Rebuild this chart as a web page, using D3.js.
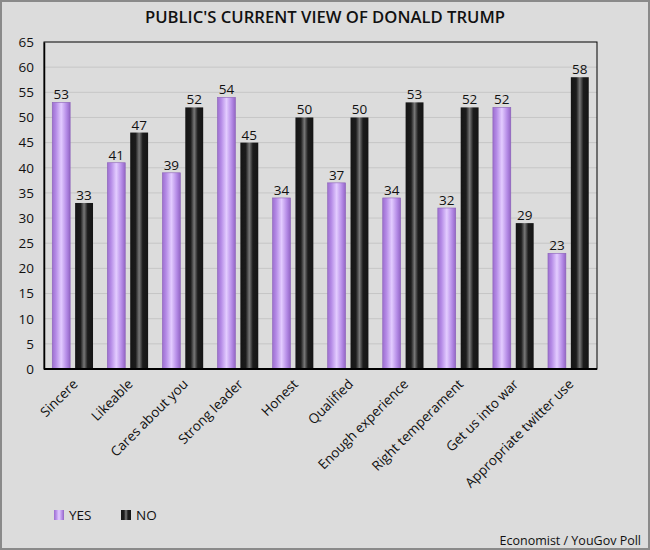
<!DOCTYPE html>
<html>
<head>
<meta charset="utf-8">
<script src="https://cdn.jsdelivr.net/npm/d3@7"></script>
<style>
  body { margin: 0; background: #dcdcdc; }
  svg { display: block; }
  text { font-family: "Open Sans", "DejaVu Sans", sans-serif; fill: #111; }
</style>
</head>
<body>
<div id="chart"></div>
<script>
const width = 650,
      height = 550;

const categories = ["Sincere", "Likeable", "Cares about you", "Strong leader", "Honest",
                    "Qualified", "Enough experience", "Right temperament", "Get us into war",
                    "Appropriate twitter use"];
const yesValues = [53, 41, 39, 54, 34, 37, 34, 32, 52, 23];
const noValues  = [33, 47, 52, 45, 50, 50, 53, 52, 29, 58];
const yTicks = d3.range(0, 66, 5);

const margin = {top: 42, right: 53, bottom: 181, left: 44};

const svg = d3.select("#chart")
  .append("svg")
    .attr("width", width)
    .attr("height", height);

// gradients for the cylinder look
const defs = svg.append("defs");
function gradient(id, stops) {
  const g = defs.append("linearGradient")
    .attr("id", id)
    .attr("x1", "0%").attr("x2", "100%")
    .attr("y1", "0%").attr("y2", "0%");
  stops.forEach(s => g.append("stop").attr("offset", s[0]).attr("stop-color", s[1]));
}
gradient("yesGrad", [["0%", "#9d6fcf"], ["20%", "#b48ae6"], ["50%", "#e3ccff"], ["80%", "#b48ae6"], ["100%", "#9366c4"]]);
gradient("noGrad", [["0%", "#151515"], ["30%", "#1c1c1c"], ["50%", "#777777"], ["70%", "#1c1c1c"], ["100%", "#151515"]]);

// outer border
svg.append("rect")
  .attr("x", 1).attr("y", 1)
  .attr("width", width - 2).attr("height", height - 2)
  .attr("fill", "#dcdcdc")
  .attr("stroke", "#8a8a8a")
  .attr("stroke-width", 2);

svg.append("text")
  .attr("x", width / 2)
  .attr("y", 23)
  .attr("text-anchor", "middle")
  .style("font-size", "17px")
  .style("font-weight", "600")
  .attr("textLength", 360)
  .attr("lengthAdjust", "spacingAndGlyphs")
  .text("PUBLIC'S CURRENT VIEW OF DONALD TRUMP");

const innerW = width - margin.left - margin.right,
      innerH = height - margin.top - margin.bottom;

const g = svg.append("g")
  .attr("transform", `translate(${margin.left},${margin.top})`);

const x = d3.scaleBand()
  .domain(categories)
  .range([0, innerW])
  .paddingInner(0.26)
  .paddingOuter(0.15);

const y = d3.scaleLinear()
  .domain([0, 65])
  .range([innerH, 0]);

// gridlines
g.append("g")
  .selectAll("line")
  .data(yTicks.filter(t => t > 0 && t < 65))
  .enter().append("line")
    .attr("x1", 0).attr("x2", innerW)
    .attr("y1", d => y(d)).attr("y2", d => y(d))
    .attr("stroke", "#c6c6c6")
    .attr("stroke-width", 1);

// frame
g.append("rect")
  .attr("x", 0).attr("y", 0)
  .attr("width", innerW).attr("height", innerH)
  .attr("fill", "none")
  .attr("stroke", "#000")
  .attr("stroke-width", 1);

const barW = x.bandwidth() * 18 / 41,
      noOffset = x.bandwidth() * 23 / 41;

const groups = g.append("g")
  .selectAll("g")
  .data(categories)
  .enter().append("g")
    .attr("transform", d => `translate(${x(d)},0)`);

groups.append("rect")
  .attr("x", 0)
  .attr("width", barW)
  .attr("y", (d, i) => y(yesValues[i]))
  .attr("height", (d, i) => innerH - y(yesValues[i]))
  .attr("fill", "url(#yesGrad)")
  .attr("stroke", "#8a60b8")
  .attr("stroke-width", 0.6);

groups.append("rect")
  .attr("x", noOffset)
  .attr("width", barW)
  .attr("y", (d, i) => y(noValues[i]))
  .attr("height", (d, i) => innerH - y(noValues[i]))
  .attr("fill", "url(#noGrad)");

groups.append("text")
  .attr("x", barW / 2)
  .attr("y", (d, i) => y(yesValues[i]) - 3)
  .attr("text-anchor", "middle")
  .style("font-size", "13.5px")
  .text((d, i) => yesValues[i]);

groups.append("text")
  .attr("x", noOffset + barW / 2)
  .attr("y", (d, i) => y(noValues[i]) - 3)
  .attr("text-anchor", "middle")
  .style("font-size", "13.5px")
  .text((d, i) => noValues[i]);

// y axis
const yAxis = g.append("g")
  .call(d3.axisLeft(y).tickValues(yTicks).tickSize(0).tickPadding(10));
yAxis.select(".domain").attr("stroke", "#000").attr("stroke-width", 1.5);
yAxis.selectAll("text")
  .style("font-size", "13.5px")
  .style("font-family", "'Open Sans', sans-serif")
  .attr("fill", "#111");

// x axis line
g.append("line")
  .attr("x1", 0).attr("x2", innerW)
  .attr("y1", innerH).attr("y2", innerH)
  .attr("stroke", "#000")
  .attr("stroke-width", 2);

// x labels
g.append("g")
  .selectAll("text")
  .data(categories)
  .enter().append("text")
    .attr("transform", d => `translate(${x(d) + x.bandwidth() / 2 + 6},${innerH + 16}) rotate(-45)`)
    .attr("text-anchor", "end")
    .style("font-size", "13.5px")
    .text(d => d);

// legend
const legend = [["YES", "url(#yesGrad)", 54], ["NO", "url(#noGrad)", 121]];
legend.forEach(l => {
  svg.append("rect")
    .attr("x", l[2]).attr("y", 510)
    .attr("width", 10).attr("height", 10)
    .attr("fill", l[1]);
  svg.append("text")
    .attr("x", l[2] + 15).attr("y", 520)
    .style("font-size", "13.5px")
    .text(l[0]);
});

svg.append("text")
  .attr("x", 641)
  .attr("y", 545)
  .attr("text-anchor", "end")
  .style("font-size", "12.5px")
  .text("Economist / YouGov Poll");
</script>
</body>
</html>
